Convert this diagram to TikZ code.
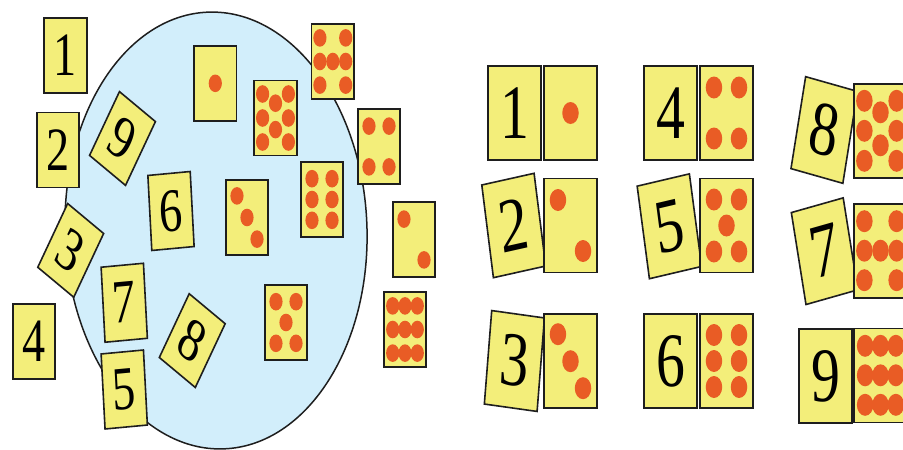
\documentclass[tikz,border=0pt]{standalone}
\usepackage{fontspec}
\setmainfont{Liberation Serif}
\newfontfamily\cardfont{Liberation Serif}
\definecolor{cardy}{RGB}{243,238,122}
\definecolor{dotc}{RGB}{233,92,37}
\definecolor{blobc}{RGB}{210,238,251}
\definecolor{edgec}{RGB}{30,30,30}
\tikzset{
  cardbox/.style={draw=edgec, fill=cardy, line width=1.6pt, minimum width=70.7pt,
    minimum height=94pt, inner sep=0pt, outer sep=0pt, transform shape,
    font=\cardfont\fontsize{77}{80}\selectfont},
  blob/.style={draw=edgec, fill=blobc, line width=1.5pt},
  dotfill/.style={fill=dotc},
}
\newcommand\numcard[6]{\node[cardbox, rotate=#5, scale=#6] (#1) at (#2,#3) {#4};}
\newcommand\dotcard[5]{%
  \node[cardbox, scale=#4] (#1) at (#2,#3) {};
  \begin{scope}[shift={(#2,#3)}, x=1pt, y=-1pt, scale=#4]
    \foreach \dx/\dy in #5 {\fill[dotfill] (\dx,\dy) circle (11pt);}
  \end{scope}}
\def\PA{0/0}
\def\PB{-16.7/-25.5,16.7/25.5}
\def\PC{-16.7/-27,0/0,16.7/27}
\def\PD{-16.7/-25.5,16.7/-25.5,-16.7/25.5,16.7/25.5}
\def\PE{-16.7/-26,16.7/-26,0/0,-16.7/26,16.7/26}
\def\PF{-16.7/-26,16.7/-26,-16.7/0,16.7/0,-16.7/26,16.7/26}
\def\PG{-21.5/-29.5,21.5/-29.5,-21.5/0,0/0,21.5/0,-21.5/29.5,21.5/29.5}
\def\PH{-21.5/-30,21.5/-30,0/-18.5,-21.5/0,21.5/0,0/14.5,-21.5/30,21.5/30}
\def\PI{-20.5/-29.5,0/-29.5,20.5/-29.5,-20.5/0,0/0,20.5/0,-20.5/29.5,0/29.5,20.5/29.5}
\begin{document}
\begin{tikzpicture}[x=1pt,y=-1pt]
\clip (0,0) rectangle (903,450);
\fill[white] (0,0) rectangle (903,450);
\draw[blob, rotate around={2:(216,230.5)}] (216,230.5) ellipse [x radius=151pt, y radius=218.5pt];
\begin{scope}[x=1.333333pt, y=-1pt, xscale=0.75]
  % left loose number cards
  \numcard{ln1}{65.5}{55.5}{1}{0}{0.8}
  \numcard{ln2}{58}{150}{2}{0}{0.8}
  \numcard{ln9}{122.5}{138.5}{9}{-32}{0.8}
  \numcard{ln6}{171}{211}{6}{4}{0.8}
  \numcard{ln3}{70.7}{250.4}{3}{-32}{0.8}
  \numcard{ln7}{124.25}{302.75}{7}{4}{0.8}
  \numcard{ln4}{34}{341.5}{4}{0}{0.8}
  \numcard{ln5}{124.25}{389.5}{5}{4}{0.8}
  \numcard{ln8}{192.25}{340.6}{8}{-32}{0.8}
  % left loose dot cards
  \dotcard{ld1}{215.3}{83.3}{0.8}{\PA}
  \dotcard{ld8}{275.5}{118}{0.8}{\PH}
  \dotcard{ld7}{332.8}{61.5}{0.8}{\PG}
  \dotcard{ld4}{379}{146.5}{0.8}{\PD}
  \dotcard{ld3}{247}{217.5}{0.8}{\PC}
  \dotcard{ld6}{322}{199.5}{0.8}{\PF}
  \dotcard{ld2}{414}{239.5}{0.8}{\PB}
  \dotcard{ld5}{286}{322.5}{0.8}{\PE}
  \dotcard{ld9}{405}{329.5}{0.8}{\PI}
  % right matched pairs
  \numcard{rn1}{514.5}{113}{1}{0}{1}
  \numcard{rn2}{513.75}{225.5}{2}{9.5}{1}
  \numcard{rn3}{514.4}{361}{3}{-6}{1}
  \numcard{rn4}{670.5}{113}{4}{0}{1}
  \numcard{rn5}{669.4}{226.3}{5}{10}{1}
  \numcard{rn6}{670.5}{361}{6}{0}{1}
  \numcard{rn8}{824.25}{130}{8}{-12}{1}
  \numcard{rn7}{824.6}{251.2}{7}{12}{1}
  \numcard{rn9}{825.5}{376}{9}{0}{1}
  \dotcard{rd1}{570.5}{113}{1}{\PA}
  \dotcard{rd2}{570.5}{225.5}{1}{\PB}
  \dotcard{rd3}{570.5}{361.2}{1}{\PC}
  \dotcard{rd4}{726.5}{113}{1}{\PD}
  \dotcard{rd5}{726.5}{225.5}{1}{\PE}
  \dotcard{rd6}{726.5}{361}{1}{\PF}
  \dotcard{rd8}{880.5}{130.8}{1}{\PH}
  \dotcard{rd7}{880.5}{250.7}{1}{\PG}
  \dotcard{rd9}{880.5}{375.3}{1}{\PI}
\end{scope}
\end{tikzpicture}
\end{document}
